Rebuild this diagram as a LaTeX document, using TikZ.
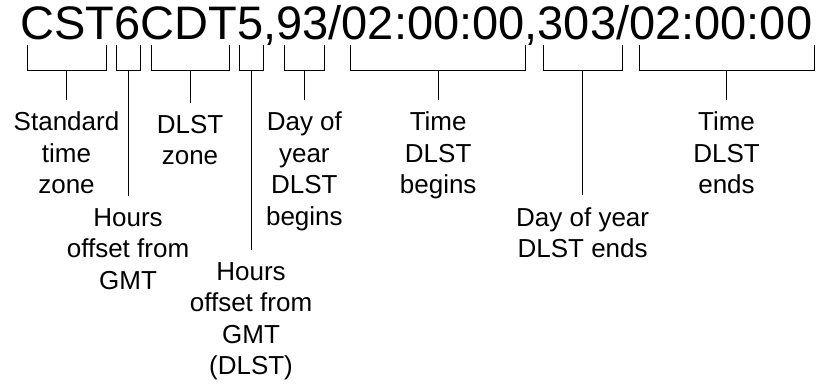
\documentclass[tikz,border=0pt]{standalone}
\usepackage{fontspec}
\setmainfont{Liberation Sans}
\begin{document}
\begin{tikzpicture}[x=1pt,y=-1pt,
  bracket/.style={draw=black,line width=1pt},
  stem/.style={draw=black,line width=1pt},
  codetext/.style={inner sep=0pt,anchor=base west,font=\fontsize{47}{50}\selectfont},
  label/.style={align=center,anchor=north,inner xsep=0pt,inner ysep=12pt,
    font=\fontsize{26}{31.5}\selectfont}]
\useasboundingbox (0,0) rectangle (821,383);

% the time-zone string being annotated
\node[codetext] (code) at (20.4,39.3) {CST6CDT5,93/02:00:00,303/02:00:00};

% one bracket per field: left x, right x, name
\foreach \l/\r/\n in {27/106/b1, 116/140/b2, 151/229/b3, 239/263/b4,
                      284/324.7/b5, 350.7/525.7/b6, 543.3/622/b7, 639/814/b8}{
  \draw[bracket] (\l,45) |- (\r,70.5) -- (\r,45);
  \coordinate (\n) at ({(\l+\r)/2},70.5);
}

% field descriptions
\node[label] (l1) at (b1 |- 0,99.5)  {Standard\\time\\zone};
\node[label] (l2) at (b2 |- 0,196)   {Hours\\offset from\\GMT};
\node[label] (l3) at (b3 |- 0,103)   {DLST\\zone};
\node[label] (l4) at (b4 |- 0,250)   {Hours\\offset from\\GMT\\(DLST)};
\node[label] (l5) at (b5 |- 0,99.5)  {Day of\\year\\DLST\\begins};
\node[label] (l6) at (b6 |- 0,99.5)  {Time\\DLST\\begins};
\node[label] (l7) at (b7 |- 0,195)   {Day of year\\DLST ends};
\node[label] (l8) at (b8 |- 0,99.5)  {Time\\DLST\\ends};

% stems from each bracket down to its description
\foreach \i in {1,...,8}{
  \draw[stem] (b\i) -- (l\i.north);
}
\end{tikzpicture}
\end{document}
